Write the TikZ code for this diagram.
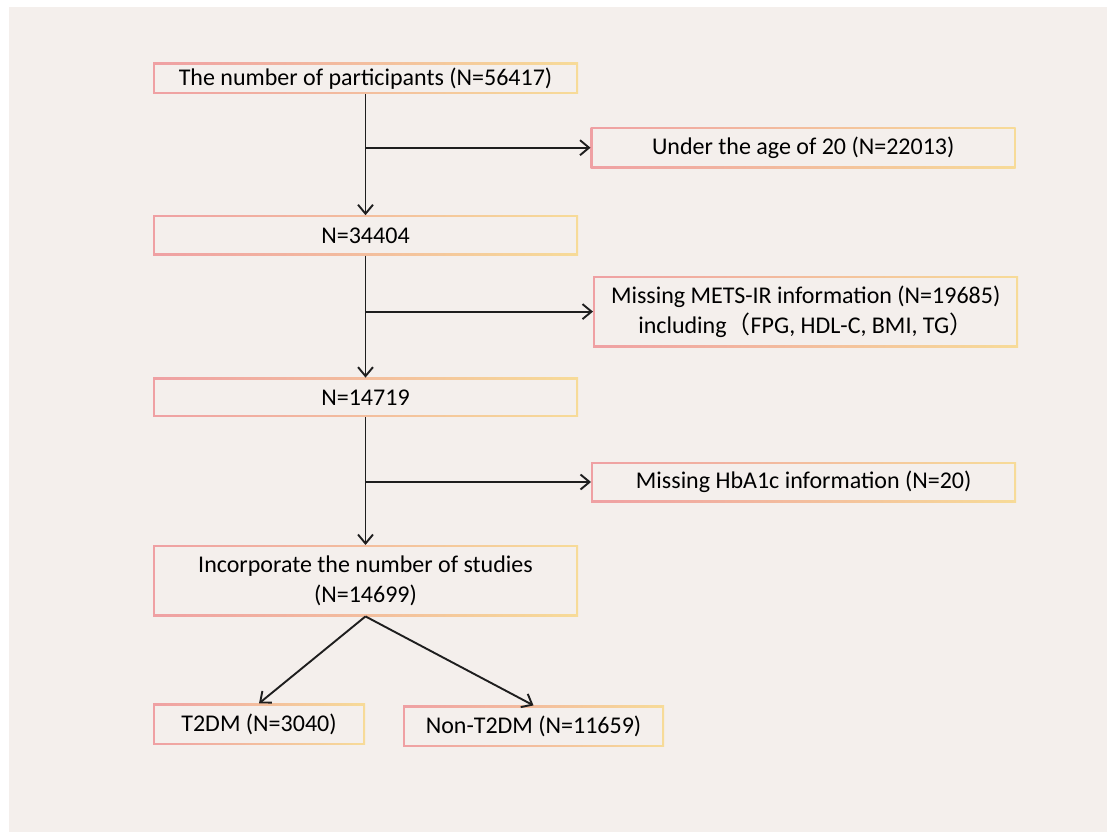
\documentclass[tikz,border=0pt]{standalone}
\usepackage{fontspec}
\setmainfont{Carlito}
\newfontfamily\cjkparen{Noto Sans CJK SC}
\usetikzlibrary{positioning,arrows.meta}

\definecolor{paper}{HTML}{F4EFEC}
\definecolor{edgepink}{HTML}{EFA0A3}
\definecolor{edgeyellow}{HTML}{F7DB98}
\definecolor{ink}{HTML}{1E1E1E}

\tikzset{
  flowbox/.style={rectangle, inner sep=0pt, minimum width=425pt, minimum height=40pt,
    align=center, text=black, font=\fontsize{24}{30}\selectfont,
    left color=edgepink, right color=edgeyellow,
    path picture={\fill[paper] ([shift={(2pt,-2pt)}]path picture bounding box.north west)
      rectangle ([shift={(-2pt,2pt)}]path picture bounding box.south east);}},
  flow/.style={draw=ink, line width=1.9pt, -{Straight Barb[length=9pt,width=15pt,line width=1.9pt]}}
}

\begin{document}
\begin{tikzpicture}[x=1pt, y=1pt]
    % Page
    \fill[white] (0,0) rectangle (1107,-832);
    \fill[paper] (9,-7) rectangle (1107,-832);

    % Nodes
    \node [flowbox, minimum height=31pt] (start) at (365.5,-78.5) {The number of participants (N=56417)};
    \coordinate [below=53.5pt of start.south] (cut1);
    \node [flowbox, minimum height=41pt, right=225pt of cut1] (age) {Under the age of 20 (N=22013)};
    \node [flowbox, below=121pt of start] (n34404) {N=34404};
    \coordinate [below=56pt of n34404.south] (cut2);
    \node [flowbox, minimum height=71pt, right=227.5pt of cut2] (mets) {Missing METS-IR information (N=19685)\\including{\cjkparen（}FPG, HDL-C, BMI, TG{\cjkparen）}};
    \node [flowbox, minimum height=39pt, below=122pt of n34404] (n14719) {N=14719};
    \coordinate [below=65pt of n14719.south] (cut3);
    \node [flowbox, right=225.5pt of cut3] (hba) {Missing HbA1c information (N=20)};
    \node [flowbox, minimum height=71pt, below=128pt of n14719] (final) {Incorporate the number of studies\\(N=14699)};
    \node [flowbox, minimum width=212pt, minimum height=41pt, below=87pt of final.south, xshift=-106.5pt] (t2dm) {T2DM (N=3040)};
    \node [flowbox, minimum width=261pt, minimum height=41pt, below=89pt of final.south, xshift=168pt] (nont2dm) {Non-T2DM (N=11659)};

    % Connections
    \draw [flow] (start) -- (n34404);
    \draw [flow] (cut1) -- (age);
    \draw [flow] (n34404) -- (n14719);
    \draw [flow] (cut2) -- (mets);
    \draw [flow] (n14719) -- (final);
    \draw [flow] (cut3) -- (hba);
    \draw [flow] (final.south) -- (t2dm.north);
    \draw [flow] (final.south) -- (nont2dm.north);
\end{tikzpicture}
\end{document}
